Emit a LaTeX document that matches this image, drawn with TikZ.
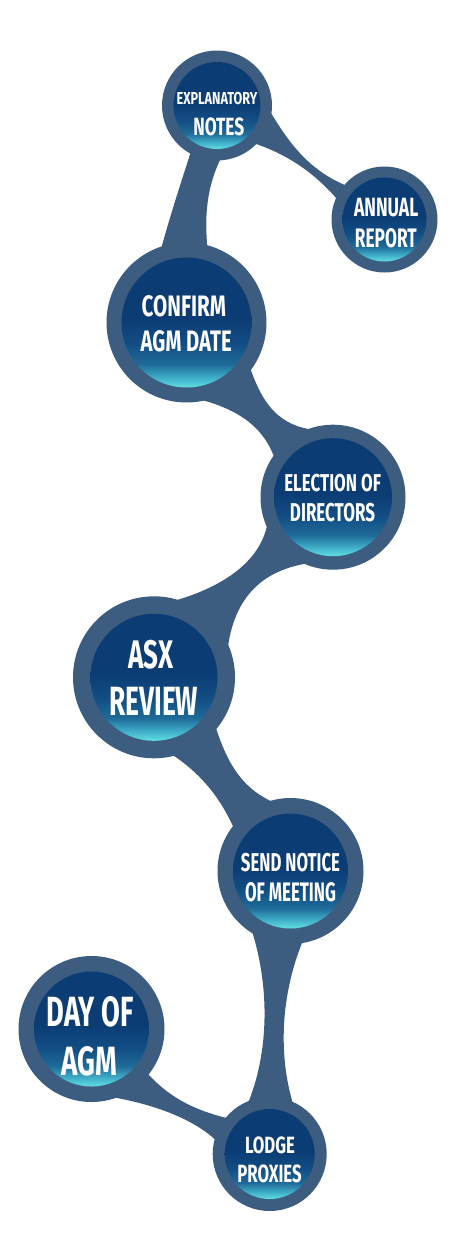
\documentclass[tikz,border=0pt]{standalone}
\usepackage{fontspec}
\usetikzlibrary{calc}
\newfontfamily\labfont{Fira Sans}
\definecolor{ringc}{RGB}{61,93,128}
\definecolor{navyc}{RGB}{11,60,116}
\definecolor{navyb}{RGB}{18,77,131}
\definecolor{midb}{RGB}{30,106,152}
\definecolor{cyanb}{RGB}{66,178,204}
\definecolor{cyanc}{RGB}{98,223,224}
\pgfdeclareverticalshading{bubble}{100bp}{color(0bp)=(cyanc); color(25bp)=(cyanc); color(28.5bp)=(cyanb); color(34bp)=(midb); color(42bp)=(navyb); color(52bp)=(navyc); color(100bp)=(navyc)}
\pgfdeclarelayer{bg}
\pgfsetlayers{bg,main}
\newcommand{\fitl}[3]{\resizebox{#1pt}{#2pt}{\labfont\bfseries #3}}
\begin{document}
\begin{tikzpicture}[x=1pt,y=-1pt,
  ring/.style={circle, fill=ringc, inner sep=0, minimum size=#1},
  core/.style={circle, shading=bubble, inner sep=0, minimum size=#1},
  lbl/.style={inner sep=0, anchor=base, text=white},
  conn/.style={fill=ringc}]
\useasboundingbox (0,0) rectangle (450,1250);
% circles
\node[ring=110pt] (en) at (217,105.5) {};
\node[core=87pt] (en-in) at (en.center) {};
\node[ring=106pt] (ar) at (384.5,219.5) {};
\node[core=84pt] (ar-in) at (ar.center) {};
\node[ring=160pt] (cf) at (186.5,322.5) {};
\node[core=130pt] (cf-in) at (cf.center) {};
\node[ring=145pt] (el) at (333,497.2) {};
\node[core=118pt] (el-in) at (el.center) {};
\node[ring=162pt] (asx) at (154,677.3) {};
\node[core=127pt] (asx-in) at (asx.center) {};
\node[ring=146pt] (sn) at (290.5,871) {};
\node[core=115pt] (sn-in) at (sn.center) {};
\node[ring=146pt] (da) at (91.5,1029) {};
\node[core=115pt] (da-in) at (da.center) {};
\node[ring=114pt] (lp) at (269.7,1154) {};
\node[core=90pt] (lp-in) at (lp.center) {};
% labels
\node[lbl] (en-l1) at (217,104) {\fitl{80.7}{12.3}{EXPLANATORY}};
\node[lbl] (en-l2) at (218.8,135) {\fitl{51}{17.7}{NOTES}};
\node[lbl] (ar-l1) at (386.2,216.7) {\fitl{64.3}{18.3}{ANNUAL}};
\node[lbl] (ar-l2) at (385.8,247.3) {\fitl{61.7}{19}{REPORT}};
\node[lbl] (cf-l1) at (183.8,316) {\fitl{84.3}{21}{CONFIRM}};
\node[lbl] (cf-l2) at (186.2,351.7) {\fitl{91}{21}{AGM DATE}};
\node[lbl] (el-l1) at (332.7,491.7) {\fitl{96.7}{17.3}{ELECTION OF}};
\node[lbl] (el-l2) at (332.5,521.7) {\fitl{85}{18.3}{DIRECTORS}};
\node[lbl] (asx-l1) at (150.8,668.3) {\fitl{45}{28.3}{ASX}};
\node[lbl] (asx-l2) at (153.8,715) {\fitl{89}{28.3}{REVIEW}};
\node[lbl] (sn-l1) at (290.5,871.7) {\fitl{99}{18.3}{SEND NOTICE}};
\node[lbl] (sn-l2) at (290.5,901.7) {\fitl{91}{19}{OF MEETING}};
\node[lbl] (da-l1) at (90,1026) {\fitl{86.7}{30}{DAY OF}};
\node[lbl] (da-l2) at (89.5,1075) {\fitl{55.7}{29}{AGM}};
\node[lbl] (lp-l1) at (270,1153.3) {\fitl{50}{16.7}{LODGE}};
\node[lbl] (lp-l2) at (269.5,1182.7) {\fitl{64.3}{17.7}{PROXIES}};
% connectors
\begin{pgfonlayer}{bg}
\fill[conn] ($(en)+(-25,42.5)$) .. controls (182,180) and (170,215) .. ($(cf)+(-28.5,-62.5)$)
  -- ($(cf)+(21.5,-67.5)$) .. controls (204,215) and (206,185) .. ($(en)+(8,44.5)$) -- cycle;
\fill[conn] ($(en)+(51,2.5)$) .. controls (290,145) and (310,172) .. ($(ar)+(-32.5,-31.5)$)
  -- ($(ar)+(-42.5,-14.5)$) .. controls (320,178) and (292,155) .. ($(en)+(33,36.5)$) -- cycle;
\fill[conn] ($(cf)+(58.5,29.5)$) .. controls (258,395) and (272,425) .. ($(el)+(-18,-67.2)$)
  -- ($(el)+(-57,-35.2)$) .. controls (266,432) and (245,408) .. ($(cf)+(-1.5,73.5)$) -- cycle;
\fill[conn] ($(el)+(-65,22.8)$) .. controls (262,565) and (215,592) .. ($(asx)+(4,-72.3)$)
  -- ($(asx)+(73,-22.3)$) .. controls (232,600) and (260,570) .. ($(el)+(-23,65.8)$) -- cycle;
\fill[conn] ($(asx)+(58,37.7)$) .. controls (225,760) and (240,790) .. ($(sn)+(-10.5,-66)$)
  -- ($(sn)+(-52.5,-33)$) .. controls (225,805) and (205,775) .. ($(asx)+(14,74.7)$) -- cycle;
\fill[conn] ($(sn)+(-40.5,54)$) .. controls (272,990) and (268,1060) .. ($(lp)+(-24.7,-44)$)
  -- ($(lp)+(25.3,-44)$) .. controls (278,1060) and (278,990) .. ($(sn)+(19.5,54)$) -- cycle;
\fill[conn] ($(da)+(48.5,36)$) .. controls (165,1095) and (190,1110) .. ($(lp)+(-34.7,-34)$)
  -- ($(lp)+(-44.7,-4)$) .. controls (205,1125) and (165,1105) .. ($(da)+(8.5,66)$) -- cycle;
\end{pgfonlayer}
\end{tikzpicture}
\end{document}
